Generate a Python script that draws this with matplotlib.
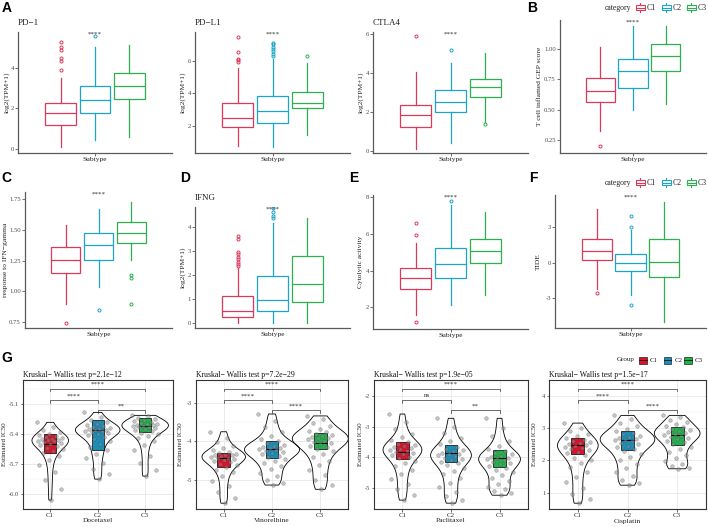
import matplotlib
matplotlib.use('Agg')
import matplotlib.pyplot as plt
import numpy as np
from matplotlib.patches import Rectangle
from matplotlib.lines import Line2D

# Immune checkpoint / response boxplots (A-F) and drug IC50 violins (G)

plt.rcParams['font.family'] = 'Liberation Serif'
plt.rcParams['axes.unicode_minus'] = False

W, H = 708, 527

groups = ['C1', 'C2', 'C3']
x_label = ['Subtype']

# boxplot stats per subtype: [whislo, q1, median, q3, whishi]
pd1_box = [[0.11, 1.18, 1.75, 2.28, 3.48], [0.44, 1.75, 2.41, 3.10, 5.03], [0.60, 2.44, 3.10, 3.72, 5.10]]
pd1_out = [[3.9, 4.35, 4.5, 4.85, 5.0, 5.25], [5.56], []]
pdl1_box = [[0.76, 1.90, 2.46, 3.42, 5.55], [0.70, 2.15, 2.93, 3.86, 6.16], [1.42, 3.08, 3.38, 4.06, 5.86]]
pdl1_out = [[5.95, 6.05, 6.1, 6.55, 7.5], [6.3, 6.45, 6.6, 6.75, 6.9, 7.05, 7.15], [6.3]]
ctla4_box = [[0.13, 1.26, 1.86, 2.37, 4.05], [0.40, 2.03, 2.54, 3.14, 4.55], [1.50, 2.79, 3.27, 3.70, 5.03]]
ctla4_out = [[5.9], [5.2], [1.4]]
gep_box = [[0.32, 0.565, 0.656, 0.763, 1.02], [0.50, 0.68, 0.82, 0.915, 1.19], [0.55, 0.82, 0.94, 1.04, 1.19]]
gep_out = [[0.20], [], []]
resp_box = [[0.894, 1.147, 1.26, 1.36, 1.54], [1.04, 1.26, 1.378, 1.478, 1.67], [1.255, 1.397, 1.48, 1.567, 1.73]]
resp_out = [[0.745], [0.845], [1.13, 1.11, 0.90]]
ifng_box = [[0.0, 0.27, 0.52, 1.13, 2.27], [0.0, 0.52, 0.96, 1.97, 4.13], [0.0, 0.87, 1.62, 2.78, 4.36]]
ifng_out = [[2.35, 2.45, 2.55, 2.65, 2.75, 2.85, 2.95, 3.5, 3.6], [4.34, 4.45, 4.61, 4.75], []]
cyt_box = [[1.59, 2.99, 3.62, 4.13, 5.49], [2.13, 3.62, 4.37, 5.22, 7.58], [2.68, 4.44, 5.07, 5.74, 7.22]]
cyt_out = [[1.19, 5.95, 6.58], [7.8], []]
tide_box = [[-2.2, 0.23, 1.02, 1.98, 4.53], [-2.7, -0.70, -0.05, 0.74, 2.75], [-5.0, -1.19, 0.09, 1.98, 5.18]]
tide_out = [[-2.55], [3.0, 3.96, -3.6], []]

# estimated IC50 per subtype (G)
doce_pts = [
    [-5.28, -5.33, -5.36, -5.38, -5.40, -5.41, -5.42, -5.43, -5.44, -5.445, -5.45, -5.455, -5.46, -5.465, -5.47, -5.48,
     -5.49, -5.50, -5.51, -5.52, -5.535, -5.55, -5.57, -5.59, -5.62, -5.66, -5.71, -5.78, -5.86, -5.95, -6.06],
    [-5.18, -5.23, -5.26, -5.28, -5.30, -5.31, -5.32, -5.33, -5.34, -5.345, -5.35, -5.355, -5.36, -5.365, -5.37, -5.38,
     -5.39, -5.40, -5.41, -5.43, -5.45, -5.47, -5.50, -5.53, -5.56, -5.60, -5.64, -5.69, -5.75, -5.80, -5.85],
    [-5.21, -5.22, -5.235, -5.25, -5.26, -5.27, -5.28, -5.29, -5.295, -5.30, -5.305, -5.31, -5.315, -5.32, -5.325, -5.33,
     -5.34, -5.35, -5.36, -5.37, -5.385, -5.40, -5.42, -5.44, -5.47, -5.51, -5.56, -5.62, -5.69, -5.76, -5.82]]
doce_box = [[-5.59, -5.50, -5.40], [-5.56, -5.36, -5.26], [-5.38, -5.32, -5.24]]
doce_sig = ['****', '****', '**']
doce_p = 'Kruskal\u2212 Wallis test p=2.1e\u221212'

vino_pts = [
    [-3.75, -3.90, -4.02, -4.11, -4.18, -4.23, -4.27, -4.30, -4.32, -4.34, -4.35, -4.36, -4.38, -4.40, -4.42, -4.44,
     -4.46, -4.48, -4.51, -4.54, -4.58, -4.62, -4.67, -4.73, -4.80, -4.90, -5.02, -5.16, -5.32, -5.46, -5.60],
    [-3.29, -3.48, -3.63, -3.75, -3.85, -3.93, -3.99, -4.04, -4.08, -4.11, -4.14, -4.16, -4.18, -4.20, -4.22, -4.24,
     -4.27, -4.30, -4.33, -4.37, -4.41, -4.46, -4.51, -4.57, -4.64, -4.72, -4.81, -4.90, -4.99, -5.07, -5.13],
    [-3.34, -3.42, -3.52, -3.60, -3.67, -3.72, -3.76, -3.80, -3.83, -3.86, -3.88, -3.90, -3.92, -3.95, -3.98, -4.01,
     -4.04, -4.07, -4.11, -4.15, -4.20, -4.26, -4.33, -4.41, -4.50, -4.61, -4.73, -4.86, -4.99, -5.12, -5.24]]
vino_box = [[-4.65, -4.44, -4.29], [-4.44, -4.20, -3.98], [-4.20, -4.03, -3.79]]
vino_sig = ['****', '****', '****']
vino_p = 'Kruskal\u2212 Wallis test p=7.2e\u221229'

pacl_pts = [
    [-2.59, -2.86, -3.07, -3.23, -3.35, -3.44, -3.51, -3.57, -3.61, -3.64, -3.67, -3.70, -3.73, -3.76, -3.79, -3.82,
     -3.85, -3.89, -3.93, -3.98, -4.04, -4.11, -4.19, -4.29, -4.41, -4.55, -4.71, -4.88, -5.05, -5.22, -5.40],
    [-2.73, -3.00, -3.20, -3.36, -3.48, -3.58, -3.66, -3.72, -3.77, -3.81, -3.85, -3.88, -3.91, -3.94, -3.97, -4.01,
     -4.05, -4.09, -4.14, -4.20, -4.27, -4.35, -4.45, -4.56, -4.69, -4.83, -4.98, -5.13, -5.27, -5.39, -5.50],
    [-2.73, -3.05, -3.30, -3.48, -3.62, -3.72, -3.80, -3.86, -3.91, -3.95, -3.98, -4.01, -4.04, -4.07, -4.10, -4.14,
     -4.18, -4.23, -4.28, -4.34, -4.41, -4.49, -4.58, -4.67, -4.77, -4.87, -4.96, -5.04, -5.11, -5.18, -5.24]]
pacl_box = [[-4.07, -3.82, -3.49], [-4.15, -3.87, -3.60], [-4.31, -4.04, -3.76]]
pacl_sig = ['****', 'ns', '**']
pacl_p = 'Kruskal\u2212 Wallis test p=1.9e\u221205'

cisp_pts = [
    [3.16, 3.02, 2.91, 2.82, 2.75, 2.69, 2.64, 2.60, 2.57, 2.54, 2.51, 2.48, 2.45, 2.42, 2.39, 2.35,
     2.31, 2.27, 2.22, 2.16, 2.09, 2.01, 1.91, 1.79, 1.65, 1.49, 1.32, 1.14, 0.96, 0.80, 0.67],
    [3.40, 3.28, 3.17, 3.07, 2.99, 2.92, 2.86, 2.81, 2.77, 2.74, 2.71, 2.68, 2.65, 2.62, 2.59, 2.55,
     2.51, 2.46, 2.41, 2.35, 2.28, 2.20, 2.11, 2.01, 1.90, 1.78, 1.65, 1.52, 1.40, 1.30, 1.23],
    [3.40, 3.34, 3.27, 3.20, 3.14, 3.08, 3.03, 2.99, 2.95, 2.92, 2.89, 2.86, 2.83, 2.80, 2.77, 2.74,
     2.70, 2.66, 2.61, 2.56, 2.50, 2.43, 2.35, 2.26, 2.16, 2.06, 1.97, 1.89, 1.82, 1.77, 1.74]]
cisp_box = [[2.20, 2.47, 2.70], [2.32, 2.62, 2.91], [2.48, 2.79, 3.03]]
cisp_sig = ['****', '****', '****']
cisp_p = 'Kruskal\u2212 Wallis test p=1.5e\u221217'

top_colors = ['#DC3A5B', '#1AA5C9', '#2DB04F']
g_colors = ['#D7142B', '#1D8DB8', '#22B14C']
axis_grey = '#5a5a5a'
text_grey = '#4d4d4d'

fig = plt.figure(figsize=(W / 100, H / 100), dpi=100)


def px_axes(x0, y0, x1, y1):
    return fig.add_axes([x0 / W, 1 - y1 / H, (x1 - x0) / W, (y1 - y0) / H])


def ftext(x, y, s, **kw):
    kw.setdefault('va', 'center')
    fig.text(x / W, 1 - y / H, s, **kw)


def box_panel(rect, rows, outs, ylim, yticks, ylabels, ylab, ylab_x, title=None):
    ax = px_axes(*rect)
    stats = []
    for r, o in zip(rows, outs):
        stats.append(dict(whislo=r[0], q1=r[1], med=r[2], q3=r[3], whishi=r[4], fliers=o))
    pos = np.arange(len(stats)) - 1
    bp = ax.bxp(stats, positions=pos, widths=0.9, showcaps=False, patch_artist=True,
                manage_ticks=False)
    for i, c in enumerate(top_colors):
        bp['boxes'][i].set(facecolor='white', edgecolor=c, linewidth=0.9)
        bp['medians'][i].set(color=c, linewidth=0.9)
        for w in bp['whiskers'][2 * i:2 * i + 2]:
            w.set(color=c, linewidth=0.9)
        bp['fliers'][i].set(marker='o', markersize=2.2, markerfacecolor='none',
                            markeredgecolor=c, markeredgewidth=0.7)
    ax.set_xlim(-2.24, 2.24)
    ax.set_ylim(*ylim)
    ax.set_yticks(yticks)
    ax.set_yticklabels(ylabels)
    ax.set_xticks([0])
    ax.set_xticklabels(x_label, fontsize=5.4, color='#222222')
    for s in ['top', 'right']:
        ax.spines[s].set_visible(False)
    for s in ['left', 'bottom']:
        ax.spines[s].set_color(axis_grey)
        ax.spines[s].set_linewidth(0.9)
    ax.tick_params(axis='both', length=2, width=0.6, color=axis_grey, pad=1)
    ax.tick_params(axis='y', labelsize=4.8, labelcolor=text_grey)
    ax.text(0, 1, '****', transform=ax.get_xaxis_transform(), ha='center', va='top',
            fontsize=5, color='#333333')
    x0, y0, x1, y1 = rect
    ftext(ylab_x, (y0 + y1) / 2, ylab, rotation=90, ha='center', fontsize=5.4, color='#222222')
    if title:
        ftext(x0, y0 - 8.5, title, ha='left', fontsize=6.5, color='#222222')
    return ax


def violin_panel(rect, pts, boxes, vwidths, sig, title, drug, ylab_x, ylim, yticks, ylabels):
    ax = px_axes(*rect)
    pos = [1, 2, 3]
    vp = ax.violinplot(pts, positions=pos, widths=vwidths, showextrema=False, bw_method=0.35)
    for b in vp['bodies']:
        b.set_facecolor('none')
        b.set_edgecolor('black')
        b.set_linewidth(0.6)
        b.set_alpha(1)
        b.set_zorder(2)
    stats = [dict(whislo=b[0], q1=b[0], med=b[1], q3=b[2], whishi=b[2], fliers=[]) for b in boxes]
    bp = ax.bxp(stats, positions=pos, widths=0.26, showcaps=False, patch_artist=True,
                manage_ticks=False, zorder=3)
    for i, c in enumerate(g_colors):
        bp['boxes'][i].set(facecolor=c, edgecolor='black', linewidth=0.5)
        bp['medians'][i].set(color='black', linewidth=0.8)
    for i, vals in enumerate(pts):
        n = len(vals)
        offs = (((np.arange(n) * 0.6180339887) % 1.0) - 0.5) * 0.56
        ax.scatter(pos[i] + offs, vals, s=7, c='#8c8c8c', alpha=0.5, edgecolors='#333333',
                   linewidths=0.3, zorder=4)
    ax.set_xlim(0.42, 3.58)
    ax.set_ylim(*ylim)
    ax.set_yticks(yticks)
    ax.set_yticklabels(ylabels)
    mids = (np.array(yticks[:-1]) + np.array(yticks[1:])) / 2
    step = yticks[1] - yticks[0]
    mids = np.concatenate([[yticks[0] - step / 2], mids, [yticks[-1] + step / 2]])
    ax.set_yticks(mids, minor=True)
    ax.set_xticks(pos)
    ax.set_xticklabels(groups, fontsize=5, color='#333333')
    ax.tick_params(axis='both', which='major', length=1.8, width=0.5, color='#333333', pad=1)
    ax.tick_params(axis='y', which='minor', length=0)
    ax.tick_params(axis='y', labelsize=4.6, labelcolor=text_grey)
    ax.grid(True, which='major', color='#e3e3e3', linewidth=0.5)
    ax.grid(True, which='minor', axis='y', color='#f0f0f0', linewidth=0.35)
    ax.set_axisbelow(True)
    for s in ax.spines.values():
        s.set_color('#333333')
        s.set_linewidth(0.8)
    hgt = rect[3] - rect[1]
    levels = [1 - 8.7 / hgt, 1 - 20 / hgt, 1 - 30 / hgt]
    pairs = [(1, 3), (1, 2), (2, 3)]
    tick = 2.5 / hgt
    tr = ax.get_xaxis_transform()
    for (a, b), lv, lab in zip(pairs, levels, sig):
        ax.plot([a, a, b, b], [lv - tick, lv, lv, lv - tick], transform=tr, color='#333333',
                linewidth=0.5, zorder=5)
        ax.text((a + b) / 2, lv + 4.2 / hgt, lab, transform=tr, ha='center', va='center',
                fontsize=5, color='#333333')
    x0, y0, x1, y1 = rect
    ftext(x0, y0 - 5, title, ha='left', fontsize=5.6, color='#111111')
    ftext((x0 + x1) / 2, 521, drug, ha='center', fontsize=5.4, color='#222222')
    ftext(ylab_x, (y0 + y1) / 2, 'Estimated IC50', rotation=90, ha='center', fontsize=5,
          color='#222222')
    return ax


def box_legend(y):
    ftext(605, y, 'category', ha='left', fontsize=5.6, color='#222222')
    for gx, lab, c in zip([640, 666, 691], groups, top_colors):
        fig.add_artist(Rectangle(((gx - 4.5) / W, 1 - (y + 2.5) / H), 9 / W, 5 / H,
                                 transform=fig.transFigure, facecolor='white', edgecolor=c, lw=0.8))
        fig.add_artist(Line2D([(gx - 4.5) / W, (gx + 4.5) / W], [1 - y / H] * 2,
                              transform=fig.transFigure, color=c, lw=0.8))
        fig.add_artist(Line2D([gx / W] * 2, [1 - (y - 4.5) / H, 1 - (y - 2.5) / H],
                              transform=fig.transFigure, color=c, lw=0.8))
        fig.add_artist(Line2D([gx / W] * 2, [1 - (y + 2.5) / H, 1 - (y + 4.5) / H],
                              transform=fig.transFigure, color=c, lw=0.8))
        ftext(gx + 7, y, lab, ha='left', fontsize=5.6, color='#222222')


# Row 1
box_panel((18, 31.7, 172, 153), pd1_box, pd1_out, (-0.20, 5.77), [0, 2, 4], ['0', '2', '4'],
          'log2(TPM+1)', 6.5, 'PD\u22121')
box_panel((195, 31.7, 350, 153), pdl1_box, pdl1_out, (0.31, 7.82), [2, 4, 6], ['2', '4', '6'],
          'log2(TPM+1)', 183.3, 'PD\u2212L1')
box_panel((373, 31.7, 528, 153), ctla4_box, ctla4_out, (-0.09, 6.13), [0, 2, 4, 6],
          ['0', '2', '4', '6'], 'log2(TPM+1)', 360.7, 'CTLA4')
box_panel((560, 20, 706, 153), gep_box, gep_out, (0.142, 1.24), [0.25, 0.5, 0.75, 1.0],
          ['0.25', '0.50', '0.75', '1.00'], 'T cell inflamed GEP score', 539.3)

# Row 2
box_panel((25, 192, 172, 328.3), resp_box, resp_out, (0.70, 1.81), [0.75, 1.0, 1.25, 1.5, 1.75],
          ['0.75', '1.00', '1.25', '1.50', '1.75'], 'response to IFN\u2212gamma', 5.5)
box_panel((195, 206.7, 350, 328.3), ifng_box, ifng_out, (-0.21, 4.82), [0, 1, 2, 3, 4],
          ['0', '1', '2', '3', '4'], 'log2(TPM+1)', 183.3, 'IFNG')
box_panel((373, 195, 528, 329.3), cyt_box, cyt_out, (0.81, 8.13), [2, 4, 6, 8],
          ['2', '4', '6', '8'], 'Cytolytic activity', 360.7)
box_panel((555, 195, 706, 328.3), tide_box, tide_out, (-5.57, 5.75), [-3, 0, 3],
          ['-3', '0', '3'], 'TIDE', 538.3)

box_legend(7.5)
box_legend(182.7)

# Row 3 (G)
violin_panel((22.7, 380, 172.7, 509), doce_pts, doce_box, [0.77, 0.94, 0.98], doce_sig, doce_p,
             'Docetaxel', 5, (-6.12, -4.855), [-6.0, -5.7, -5.4, -5.1], ['-6.0', '-5.7', '-5.4', '-5.1'])
violin_panel((195.7, 380, 348.3, 509), vino_pts, vino_box, [0.90, 1.14, 1.16], vino_sig, vino_p,
             'Vinorelbine', 180, (-5.75, -2.41), [-5, -4, -3], ['-5', '-4', '-3'])
violin_panel((374.3, 380, 527.7, 509), pacl_pts, pacl_box, [0.80, 0.84, 0.86], pacl_sig, pacl_p,
             'Paclitaxel', 360, (-5.69, -1.48), [-5, -4, -3, -2], ['-5', '-4', '-3', '-2'])
violin_panel((549, 380, 706, 509), cisp_pts, cisp_box, [0.82, 1.10, 0.92], cisp_sig, cisp_p,
             'Cisplatin', 535, (0.49, 4.44), [1, 2, 3, 4], ['1', '2', '3', '4'])

# Group legend for G
ftext(617, 360, 'Group', ha='left', fontsize=5, color='#222222')
for gx, lab, c in zip([643, 667.5, 688], groups, g_colors):
    fig.add_artist(Rectangle(((gx - 3.8) / W, 1 - (360 + 3.5) / H), 7.6 / W, 7 / H,
                             transform=fig.transFigure, facecolor=c, edgecolor='black', lw=0.4))
    fig.add_artist(Line2D([(gx - 3.8) / W, (gx + 3.8) / W], [1 - 360 / H] * 2,
                          transform=fig.transFigure, color='black', lw=0.5))
    ftext(gx + 7, 360, lab, ha='left', fontsize=5, color='#222222')

# Panel letters
for lx, ly, lab in [(6.7, 8, 'A'), (532, 7.5, 'B'), (6, 178, 'C'), (185, 178, 'D'),
                    (353.5, 178, 'E'), (533, 178, 'F'), (6.7, 357.5, 'G')]:
    ftext(lx, ly, lab, ha='center', fontsize=10, fontweight='bold', family='Liberation Sans')

fig.savefig('out.png', dpi=100)
